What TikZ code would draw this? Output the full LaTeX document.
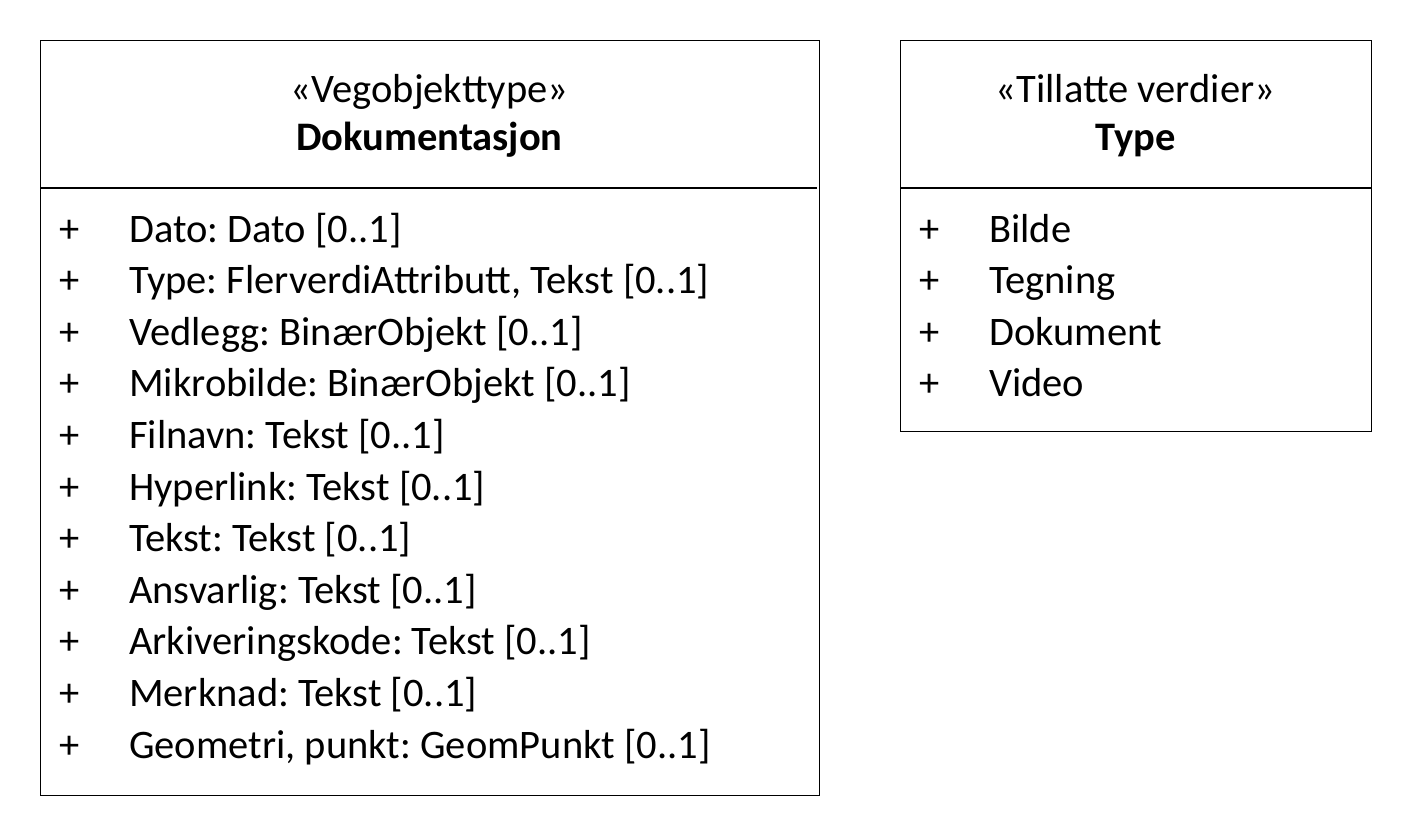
\documentclass[tikz,border=0pt]{standalone}
\usepackage{fontspec}
\setmainfont{Carlito}
\frenchspacing
\begin{document}
\begin{tikzpicture}[x=1pt,y=-1pt,
  boxframe/.style={draw=black,line width=1.2pt,fill=none,inner sep=0pt,anchor=north west},
  sepline/.style={draw=black,line width=1.2pt},
  txt/.style={anchor=base west,inner sep=0pt,font=\fontsize{40.5}{48}\selectfont},
  ctxt/.style={anchor=base,inner sep=0pt,font=\fontsize{40.5}{48}\selectfont},
  btxt/.style={anchor=base,inner sep=0pt,font=\fontsize{40.5}{48}\selectfont\bfseries}]
\useasboundingbox (0,0) rectangle (1412,836);
% left class
\node[boxframe,minimum width=779pt,minimum height=755pt] (L) at (40,40) {};
\coordinate (Ls1) at (40,188);
\coordinate (Ls2) at (817,188);
\draw[sepline] (Ls1) -- (Ls2);
\node[ctxt] (Lst) at (429.5,102) {«Vegobjekttype»};
\node[btxt] (Lnm) at (429.5,150) {Dokumentasjon};
\foreach \i/\t in {0/{Dato: Dato [0..1]},1/{Type: FlerverdiAttributt, Tekst [0..1]},2/{Vedlegg: BinærObjekt [0..1]},3/{Mikrobilde: BinærObjekt [0..1]},4/{Filnavn: Tekst [0..1]},5/{Hyperlink: Tekst [0..1]},6/{Tekst: Tekst [0..1]},7/{Ansvarlig: Tekst [0..1]},8/{Arkiveringskode: Tekst [0..1]},9/{Merknad: Tekst [0..1]},10/{Geometri, punkt: GeomPunkt [0..1]}}{
  \node[txt] (Lp\i) at (59,242+51.6*\i) {+};
  \node[txt] (La\i) at (129,242+51.6*\i) {\t};
}
% right class
\node[boxframe,minimum width=471pt,minimum height=391pt] (R) at (900,40) {};
\coordinate (Rs1) at (900,188);
\coordinate (Rs2) at (1371,188);
\draw[sepline] (Rs1) -- (Rs2);
\node[ctxt] (Rst) at (1135.5,102) {«Tillatte verdier»};
\node[btxt] (Rnm) at (1135.5,150) {Type};
\foreach \i/\t in {0/Bilde,1/Tegning,2/Dokument,3/Video}{
  \node[txt] (Rp\i) at (919,242+51.6*\i) {+};
  \node[txt] (Ra\i) at (989,242+51.6*\i) {\t};
}
\end{tikzpicture}
\end{document}
